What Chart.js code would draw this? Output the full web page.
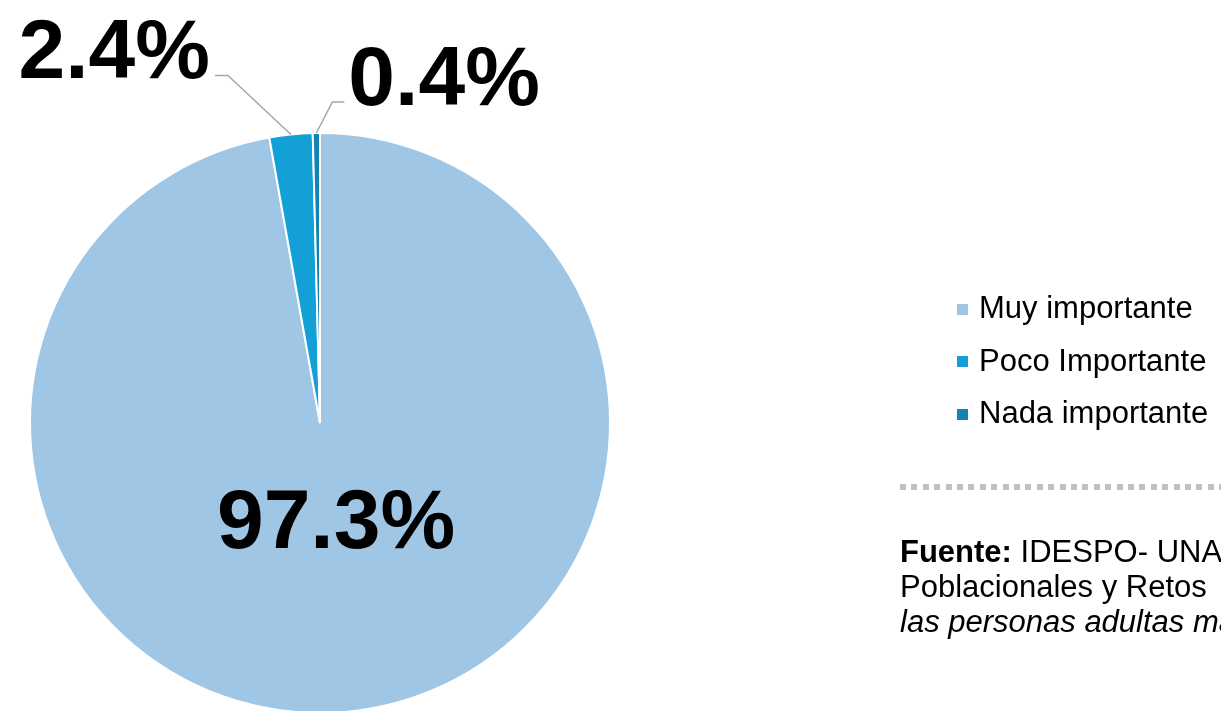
<!DOCTYPE html>
<html>
<head>
<meta charset="utf-8">
<script src="https://cdn.jsdelivr.net/npm/chart.js@4.4.0/dist/chart.umd.min.js"></script>
<style>
  html, body { margin: 0; padding: 0; background: #fff; overflow: hidden; }
  #wrap {
    position: relative;
    width: 1221px;
    height: 711px;
    overflow: hidden;
    font-family: "Liberation Sans", Arial, sans-serif;
    color: #000;
  }
  #wrap canvas { position: absolute; left: 0; top: 0; }
  .legend {
    position: absolute;
    left: 957px;
    top: 282px;
    font-size: 31px;
    line-height: 52.5px;
    white-space: nowrap;
  }
  .legend .item { display: flex; align-items: center; }
  .legend .box { width: 11px; height: 11px; margin-right: 11px; margin-top: 2px; }
  .sep {
    position: absolute;
    left: 900px;
    top: 484px;
    width: 330px;
    height: 6px;
    background: repeating-linear-gradient(90deg, #c0c0c0 0 6px, transparent 6px 11.4px);
  }
  .source {
    position: absolute;
    left: 900px;
    top: 534px;
    font-size: 31px;
    line-height: 35px;
    white-space: nowrap;
  }
</style>
</head>
<body>
<div id="wrap">
  <canvas id="pie" width="1221" height="740"></canvas>
  <div class="legend" id="legend"></div>
  <div class="sep"></div>
  <div class="source">
    <div><b>Fuente:</b> IDESPO- UNA, Encuesta</div>
    <div>Poblacionales y Retos &nbsp;para</div>
    <div><i>las personas adultas mayores</i></div>
  </div>
</div>
<script>
// data
const categories = ['Muy importante', 'Poco Importante', 'Nada importante'];
const values = [97.3, 2.4, 0.4];
const valueLabels = ['97.3%', '2.4%', '0.4%'];
const colors = ['#a0c6e6', '#12a0d7', '#1283b4'];

// label placement (inside for the big slice, leader lines for the small ones)
const labelStyle = [
  { inside: true, r: 0.315, dx: 8, dy: 34 },
  { elbow: [-63, -59], end: -13, align: 'right', tx: -5, ty: 3 },
  { elbow: [16, -31], end: 12, align: 'left', tx: 4, ty: 3 }
];

const legend = document.getElementById('legend');
categories.forEach((c, i) => {
  const row = document.createElement('div');
  row.className = 'item';
  row.innerHTML = `<span class="box" style="background:${colors[i]}"></span><span>${c}</span>`;
  legend.appendChild(row);
});

const pieLabels = {
  id: 'pieLabels',
  afterDatasetsDraw(chart) {
    const ctx = chart.ctx;
    const meta = chart.getDatasetMeta(0);
    ctx.save();
    ctx.font = 'bold 84px "Liberation Sans", Arial, sans-serif';
    ctx.fillStyle = '#000';
    ctx.textBaseline = 'alphabetic';
    meta.data.forEach((arc, i) => {
      const p = arc.getProps(['x', 'y', 'startAngle', 'endAngle', 'outerRadius'], true);
      const mid = (p.startAngle + p.endAngle) / 2;
      const s = labelStyle[i];
      if (s.inside) {
        const r = p.outerRadius * s.r;
        ctx.textAlign = 'center';
        ctx.fillText(valueLabels[i], p.x + Math.cos(mid) * r + s.dx, p.y + Math.sin(mid) * r + s.dy);
        return;
      }
      const ox = p.x + Math.cos(mid) * p.outerRadius;
      const oy = p.y + Math.sin(mid) * p.outerRadius;
      const ex = ox + s.elbow[0];
      const ey = oy + s.elbow[1];
      const hx = ex + s.end;
      ctx.strokeStyle = '#a6a6a6';
      ctx.lineWidth = 1.5;
      ctx.beginPath();
      ctx.moveTo(ox, oy);
      ctx.lineTo(ex, ey);
      ctx.lineTo(hx, ey);
      ctx.stroke();
      ctx.textAlign = s.align;
      ctx.fillText(valueLabels[i], hx + s.tx, ey + s.ty);
    });
    ctx.restore();
  }
};

new Chart(document.getElementById('pie'), {
  type: 'pie',
  data: {
    labels: categories,
    datasets: [{
      data: values,
      backgroundColor: colors,
      borderColor: '#ffffff',
      borderWidth: 2
    }]
  },
  options: {
    responsive: false,
    animation: false,
    layout: { padding: { left: 29, top: 132, right: 610, bottom: 26 } },
    plugins: {
      legend: { display: false },
      tooltip: { enabled: false }
    }
  },
  plugins: [pieLabels]
});
</script>
</body>
</html>
